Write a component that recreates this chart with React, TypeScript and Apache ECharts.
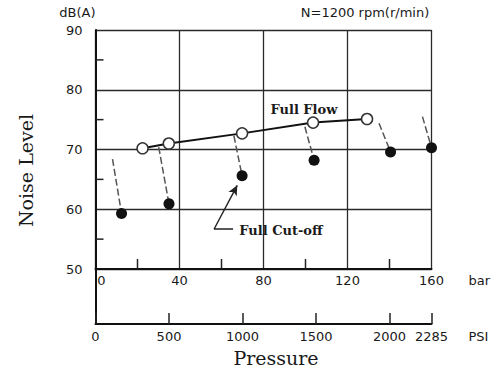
import React, { useEffect, useRef } from "react";
import * as echarts from "echarts";

// Axis ranges (tick steps)
const barRange = [0, 160];
const barStep = 40;
const psiRange = [0, 2285];
const psiStep = 500;
const dbRange = [50, 90];
const dbStep = 10;

// Minor tick marks (between gridlines)
const barMinorTicks = [20, 60, 100, 140];
const dbMinorTicks = [55, 65, 75, 85];

// Full Flow (open circles)
const fullFlowBar = [22.4, 34.9, 69.8, 103.6, 129.3];
const fullFlowDb = [70.2, 71.0, 72.7, 74.5, 75.1];

// Full Cut-off (filled circles)
const cutOffBar = [12.4, 35.0, 69.8, 104.1, 140.5, 160];
const cutOffDb = [59.3, 60.9, 65.6, 68.2, 69.6, 70.3];

// Dashed leader lines: start point, each ending at the matching cut-off point
const leaderStartBar = [8.1, 30.1, 65.9, 99.7, 135.0, 155.7];
const leaderStartDb = [68.4, 70.4, 72.3, 73.8, 74.4, 75.5];

// Arrow from the "Full Cut-off" label
const arrowBar = [65.5, 56.5, 67.5];
const arrowDb = [56.7, 56.7, 64.0];

const SANS = "DejaVu Sans";
const SERIF = "DejaVu Serif";
const INK = "#1a1a1a";
const GRID = "#2a2a2a";
const TICK = { color: "#222", width: 1.5 };

export default function App() {
  const ref = useRef<HTMLDivElement>(null);

  useEffect(() => {
    if (!ref.current) return;
    const chart = echarts.init(ref.current, undefined, { renderer: "svg" });

    const leaderSeries = leaderStartBar.map((b, i) => ({
      type: "line",
      xAxisIndex: 0,
      yAxisIndex: 0,
      symbol: "none",
      clip: false,
      z: 2,
      lineStyle: { color: "#555", width: 1.5, type: [7, 3] },
      data: [
        [b, leaderStartDb[i]],
        [cutOffBar[i], cutOffDb[i]],
      ],
    }));

    // minor ticks: [bar, dB, kind] kind 0 = bottom axis, 1 = left axis
    const minorTickData = [
      ...barMinorTicks.map((v) => [v, dbRange[0], 0]),
      ...dbMinorTicks.map((v) => [barRange[0], v, 1]),
    ];

    const option: any = {
      animation: false,
      backgroundColor: "#ffffff",
      grid: [
        { left: 95.5, top: 30, width: 336, height: 239 },
        { left: 95.5, top: 269, width: 336, height: 55 },
      ],
      xAxis: [
        {
          type: "value",
          gridIndex: 0,
          min: barRange[0],
          max: barRange[1],
          interval: barStep,
          position: "bottom",
          name: "bar",
          nameLocation: "end",
          nameGap: 37,
          nameTextStyle: {
            fontFamily: SANS,
            fontSize: 13,
            color: INK,
            verticalAlign: "top",
            padding: [5, 0, 0, 0],
          },
          axisLine: { show: true, onZero: false, lineStyle: { color: "#111", width: 2 } },
          axisTick: { show: false },
          splitLine: { show: true, lineStyle: { color: GRID, width: 1.3 } },
          axisLabel: {
            margin: 5,
            fontFamily: SANS,
            fontSize: 13,
            color: INK,
            showMinLabel: true,
            showMaxLabel: true,
            formatter: (v: number) => (v === 0 ? "{z|0}" : String(v)),
            rich: { z: { fontFamily: SANS, fontSize: 13, color: INK, padding: [0, 0, 0, 12] } },
          },
        },
        {
          type: "value",
          gridIndex: 1,
          min: psiRange[0],
          max: psiRange[1],
          interval: psiStep,
          position: "bottom",
          name: "PSI",
          nameLocation: "end",
          nameGap: 37,
          nameTextStyle: {
            fontFamily: SANS,
            fontSize: 13,
            color: INK,
            verticalAlign: "top",
            padding: [6, 0, 0, 0],
          },
          axisLine: { show: true, onZero: false, lineStyle: { color: "#111", width: 2 } },
          axisTick: { show: true, inside: true, length: 11, lineStyle: TICK },
          splitLine: { show: false },
          axisLabel: {
            margin: 6,
            fontFamily: SANS,
            fontSize: 13,
            color: INK,
            showMinLabel: true,
            showMaxLabel: true,
            formatter: (v: number) => String(v),
          },
        },
      ],
      yAxis: [
        {
          type: "value",
          gridIndex: 0,
          min: dbRange[0],
          max: dbRange[1],
          interval: dbStep,
          position: "left",
          name: "dB(A)",
          nameLocation: "end",
          nameGap: 11,
          nameTextStyle: { fontFamily: SANS, fontSize: 13, color: INK, align: "right" },
          axisLine: { show: true, onZero: false, lineStyle: { color: "#111", width: 2 } },
          axisTick: { show: false },
          splitLine: { show: true, lineStyle: { color: GRID, width: 1.3 } },
          axisLabel: { margin: 13, fontFamily: SANS, fontSize: 13, color: INK },
        },
        {
          type: "value",
          gridIndex: 1,
          min: 0,
          max: 1,
          position: "left",
          axisLine: { show: true, onZero: false, lineStyle: { color: "#111", width: 2 } },
          axisTick: { show: false },
          axisLabel: { show: false },
          splitLine: { show: false },
        },
      ],
      graphic: [
        {
          type: "text",
          x: 365,
          y: 12,
          style: {
            text: "N=1200 rpm(r/min)",
            fontFamily: SANS,
            fontSize: 13,
            fill: INK,
            align: "center",
            verticalAlign: "middle",
          },
        },
        {
          type: "text",
          x: 25.5,
          y: 170.5,
          rotation: Math.PI / 2,
          style: {
            text: "Noise Level",
            fontFamily: SERIF,
            fontSize: 19,
            fill: INK,
            align: "center",
            verticalAlign: "middle",
          },
        },
        {
          type: "text",
          x: 276,
          y: 357.5,
          style: {
            text: "Pressure",
            fontFamily: SERIF,
            fontSize: 19,
            fill: INK,
            align: "center",
            verticalAlign: "middle",
          },
        },
        {
          type: "text",
          x: 270.5,
          y: 109,
          z: 10,
          style: {
            text: "Full Flow",
            fontFamily: SERIF,
            fontWeight: "bold",
            fontSize: 13,
            fill: INK,
            align: "left",
            verticalAlign: "middle",
          },
        },
        {
          type: "text",
          x: 239.3,
          y: 230,
          z: 10,
          style: {
            text: "Full Cut-off",
            fontFamily: SERIF,
            fontWeight: "bold",
            fontSize: 13,
            fill: INK,
            align: "left",
            verticalAlign: "middle",
          },
        },
      ],
      series: [
        {
          type: "custom",
          coordinateSystem: "cartesian2d",
          xAxisIndex: 0,
          yAxisIndex: 0,
          clip: false,
          silent: true,
          z: 3,
          encode: { x: 0, y: 1 },
          data: minorTickData,
          renderItem: (_params: any, api: any) => {
            const p = api.coord([api.value(0), api.value(1)]);
            const kind = api.value(2);
            const shape =
              kind === 0
                ? { x1: p[0], y1: p[1], x2: p[0], y2: p[1] - 10 }
                : { x1: p[0], y1: p[1], x2: p[0] + 8, y2: p[1] };
            return {
              type: "line",
              shape,
              style: { stroke: TICK.color, lineWidth: TICK.width },
            };
          },
        },
        ...leaderSeries,
        {
          type: "line",
          name: "Full Flow",
          xAxisIndex: 0,
          yAxisIndex: 0,
          clip: false,
          z: 4,
          symbol: "circle",
          symbolSize: 11,
          showSymbol: true,
          lineStyle: { color: "#111", width: 2 },
          itemStyle: { color: "#ffffff", borderColor: "#333", borderWidth: 1.5 },
          data: fullFlowBar.map((b, i) => [b, fullFlowDb[i]]),
        },
        {
          type: "scatter",
          name: "Full Cut-off",
          xAxisIndex: 0,
          yAxisIndex: 0,
          clip: false,
          z: 5,
          symbol: "circle",
          symbolSize: 11,
          itemStyle: { color: "#111", opacity: 1 },
          data: cutOffBar.map((b, i) => [b, cutOffDb[i]]),
        },
        {
          type: "line",
          xAxisIndex: 0,
          yAxisIndex: 0,
          clip: false,
          z: 4,
          symbol: "circle",
          showSymbol: true,
          lineStyle: { color: "#222", width: 1.4 },
          itemStyle: { color: "#222" },
          data: arrowBar.map((b, i) =>
            i === arrowBar.length - 1
              ? { value: [b, arrowDb[i]], symbol: "arrow", symbolSize: [7, 10], symbolRotate: -27.7 }
              : { value: [b, arrowDb[i]], symbol: "none" }
          ),
        },
      ],
    };

    chart.setOption(option);
    return () => chart.dispose();
  }, []);

  return (
    <div
      ref={ref}
      style={{ position: "fixed", left: 0, top: 0, width: 496, height: 370, background: "#fff" }}
    />
  );
}
